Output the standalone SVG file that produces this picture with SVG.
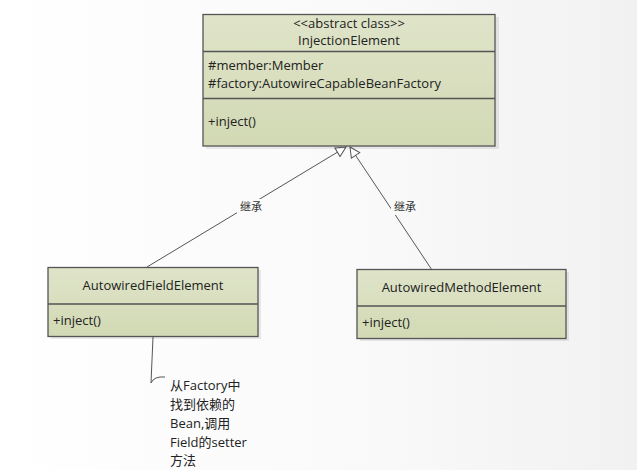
<svg xmlns="http://www.w3.org/2000/svg" width="637" height="470" viewBox="0 0 637 470">
<defs>
<linearGradient id="bg" x1="0" y1="0" x2="1" y2="0">
<stop offset="0" stop-color="#ffffff"/><stop offset="0.6" stop-color="#f9f9f9"/><stop offset="1" stop-color="#f1f1f1"/>
</linearGradient>
<linearGradient id="fill" x1="0" y1="0" x2="0" y2="1">
<stop offset="0" stop-color="#dfe4c9"/><stop offset="1" stop-color="#d2d9b4"/>
</linearGradient>
<marker id="inh" viewBox="0 0 12 12" refX="11" refY="6" markerWidth="12" markerHeight="12" markerUnits="userSpaceOnUse" orient="auto">
<path d="M1,1 L11,6 L1,11 Z" fill="#ffffff" stroke="#555" stroke-width="1"/>
</marker>
</defs>
<style>
.box{fill:url(#fill);stroke:#555;stroke-width:1.3}
.shadow{fill:#000;opacity:0.08}
.div{stroke:#555;stroke-width:1.3}
.t{font-family:"Open Sans","Noto Sans","Noto Sans CJK SC",sans-serif;font-size:13px;fill:#222}
.c{text-anchor:middle}
.lbl{font-family:"Noto Sans CJK SC",sans-serif;font-size:11px;fill:#333;text-anchor:middle}
.edge{stroke:#555;stroke-width:1;fill:none}
</style>
<rect width="637" height="470" fill="url(#bg)"/>
<g id="connectors">
<line class="edge" x1="147" y1="267" x2="346" y2="147" marker-end="url(#inh)"/>
<line class="edge" x1="432" y1="270" x2="350" y2="147" marker-end="url(#inh)"/>
<rect x="237" y="199" width="28" height="16" fill="#fbfbfb"/>
<text class="lbl" x="251" y="211">继承</text>
<rect x="391" y="199" width="28" height="16" fill="#f9f9f9"/>
<text class="lbl" x="405" y="211">继承</text>
<path class="edge" d="M153,337 L151,383 Q154,376 165,377"/>
</g>
<g id="InjectionElement">
<rect class="shadow" x="206" y="17" width="293" height="132"/>
<rect class="box" x="203" y="14.5" width="292" height="131.5"/>
<line class="div" x1="203" y1="51.5" x2="495" y2="51.5"/>
<line class="div" x1="203" y1="98.5" x2="495" y2="98.5"/>
<text class="t c" x="349" y="28">&lt;&lt;abstract class&gt;&gt;</text>
<text class="t c" x="349" y="45">InjectionElement</text>
<text class="t" x="208" y="70">#member:Member</text>
<text class="t" x="208" y="87.5">#factory:AutowireCapableBeanFactory</text>
<text class="t" x="208" y="126">+inject()</text>
</g>
<g id="AutowiredFieldElement">
<rect class="shadow" x="51" y="270" width="210" height="69"/>
<rect class="box" x="48" y="267.5" width="210" height="69"/>
<line class="div" x1="48" y1="304" x2="258" y2="304"/>
<text class="t c" x="153" y="290">AutowiredFieldElement</text>
<text class="t" x="53" y="325">+inject()</text>
</g>
<g id="AutowiredMethodElement">
<rect class="shadow" x="360" y="272" width="209" height="69"/>
<rect class="box" x="357" y="269.5" width="209" height="69"/>
<line class="div" x1="357" y1="306" x2="566" y2="306"/>
<text class="t c" x="461.5" y="292">AutowiredMethodElement</text>
<text class="t" x="362" y="327">+inject()</text>
</g>
<g id="note">
<text class="t" x="170" y="390">从Factory中</text>
<text class="t" x="170" y="409">找到依赖的</text>
<text class="t" x="170" y="428">Bean,调用</text>
<text class="t" x="170" y="447">Field的setter</text>
<text class="t" x="170" y="465">方法</text>
</g>
</svg>
